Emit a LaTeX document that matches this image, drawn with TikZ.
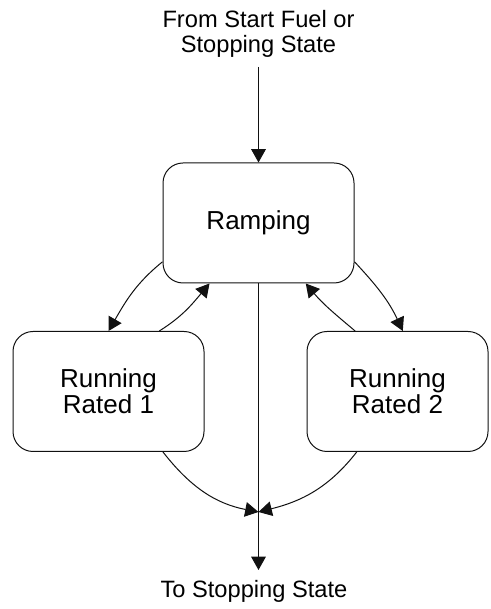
\documentclass[tikz,border=0pt]{standalone}
\usepackage{fontspec}
\setmainfont{Liberation Sans}
\usetikzlibrary{arrows.meta}
\definecolor{outline}{HTML}{111111}

\begin{document}
\begin{tikzpicture}[x=0.75pt, y=0.75pt,
    state/.style={draw=outline, line width=0.75pt, rounded corners=15pt,
      minimum width=143.25pt, minimum height=90pt, inner sep=0pt, align=center,
      font=\fontsize{19.5}{19.5}\selectfont},
    endtext/.style={inner xsep=0pt, align=center, font=\fontsize{17.75}{18.75}\selectfont},
    flow/.style={draw=outline, line width=0.75pt, -{Triangle[length=10pt, width=11pt]}}]
  \useasboundingbox (0, 0) rectangle (491, 609);

  % States
  \node[state] (ramp) at (258.5, 386) {Ramping};
  \node[state] (run1) at (108.5, 217.5) {Running\\Rated 1};
  \node[state, minimum width=135.75pt] (run2) at (397.5, 217.5) {Running\\Rated 2};

  % Entry and exit
  \node[endtext, anchor=south, inner ysep=6.75pt] (src) at (258.5, 542)
    {From Start Fuel or\\Stopping State};
  \node[endtext, anchor=north, inner ysep=7.5pt] (sink) at (254, 39) {To Stopping State};
  \coordinate (merge) at (258.5, 97);

  \draw[flow] (src) -- (ramp);
  \draw[flow] (ramp) -- (ramp.south |- sink.north);

  % Transitions between states
  \draw[flow] (ramp.202) to[out=219, in=60] (run1.north);
  \draw[flow] (run1.50) to[out=32, in=230] (ramp.231);
  \draw[flow] (ramp.338) to[out=-47, in=115] (run2.85);
  \draw[flow] (run2.125) to[out=140, in=-50] (ramp.308);

  % Leaving the running states
  \draw[flow] (run1.312) to[out=-52, in=169] (merge);
  \draw[flow] (run2.236) to[out=232, in=14] (merge);
\end{tikzpicture}
\end{document}
